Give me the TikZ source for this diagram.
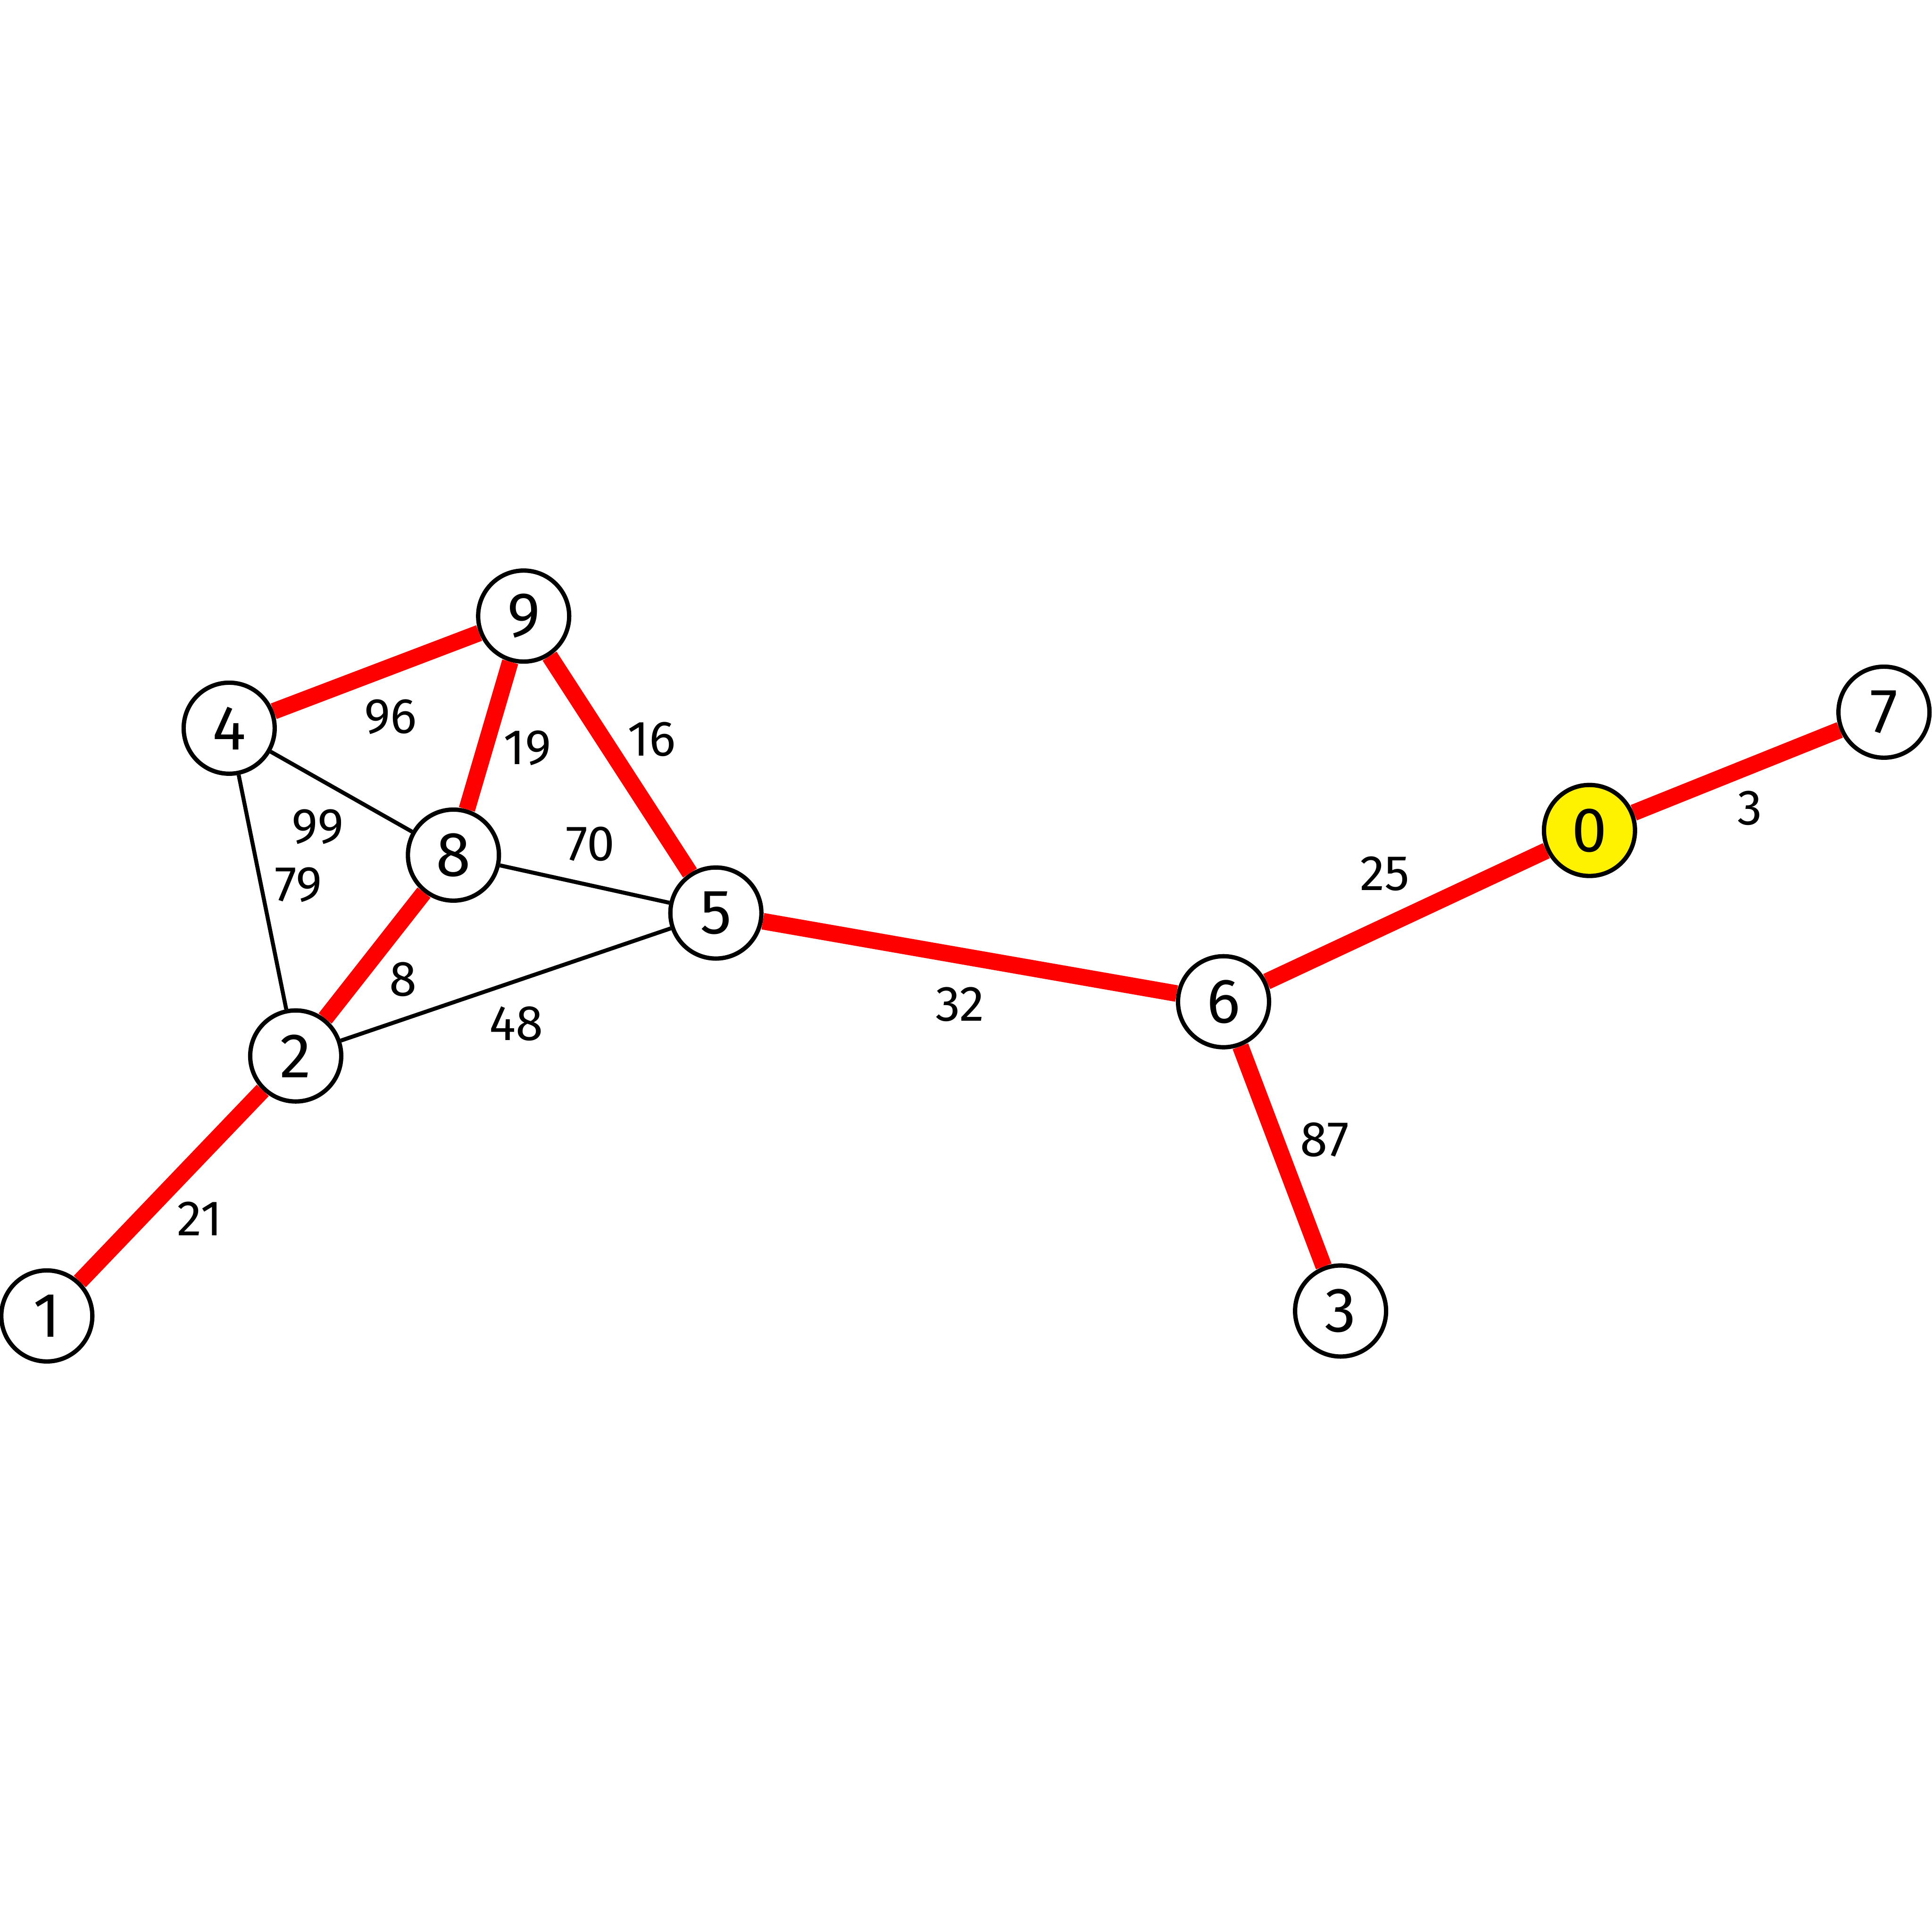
\documentclass[tikz,border=0pt]{standalone}
\usepackage{fontspec}
\setmainfont{Fira Sans}
\begin{document}
\begin{tikzpicture}[x=0.02612cm,y=-0.02612cm,
  vtx/.style={circle,draw=black,fill=white,line width=2.6pt,minimum size=1.93cm,inner sep=0pt,font=\fontsize{38}{40}\selectfont},
  root/.style={vtx,fill=yellow},
  tree/.style={draw=red,line width=10pt},
  plain/.style={draw=black,line width=2.4pt},
  wlab/.style={font=\fontsize{30}{32}\selectfont,inner sep=0pt}]
\useasboundingbox (0,0) rectangle (1568,1568);
\fill[white] (0,0) rectangle (1568,1568);
\node[root] (n0) at (1290,674) {0};
\node[vtx] (n1) at (38,1068) {1};
\node[vtx] (n2) at (240,857) {2};
\node[vtx] (n3) at (1088,1064) {3};
\node[vtx] (n4) at (186,591) {4};
\node[vtx] (n5) at (581,741) {5};
\node[vtx] (n6) at (993,813) {6};
\node[vtx] (n7) at (1529,578) {7};
\node[vtx] (n8) at (368,694) {8};
\node[vtx] (n9) at (425,500) {9};
\draw[plain] (n4) -- (n8);
\draw[plain] (n4) -- (n2);
\draw[plain] (n8) -- (n5);
\draw[plain] (n2) -- (n5);
\draw[tree] (n4) -- (n9);
\draw[tree] (n9) -- (n8);
\draw[tree] (n9) -- (n5);
\draw[tree] (n8) -- (n2);
\draw[tree] (n2) -- (n1);
\draw[tree] (n5) -- (n6);
\draw[tree] (n6) -- (n0);
\draw[tree] (n6) -- (n3);
\draw[tree] (n0) -- (n7);
\node[wlab] (l49) at (317,582) {96};
\node[wlab] (l98) at (428,607) {19};
\node[wlab] (l95) at (529,600) {16};
\node[wlab] (l48) at (258,671) {99};
\node[wlab] (l42) at (242,718) {79};
\node[wlab] (l85) at (479,685) {70};
\node[wlab] (l82) at (327,795) {8};
\node[wlab] (l25) at (419,831) {48};
\node[wlab] (l56) at (779,815) {32};
\node[wlab] (l60) at (1124,709) {25};
\node[wlab] (l07) at (1420,656) {3};
\node[wlab] (l63) at (1075,925) {87};
\node[wlab] (l21) at (162,989) {21};
\end{tikzpicture}
\end{document}
